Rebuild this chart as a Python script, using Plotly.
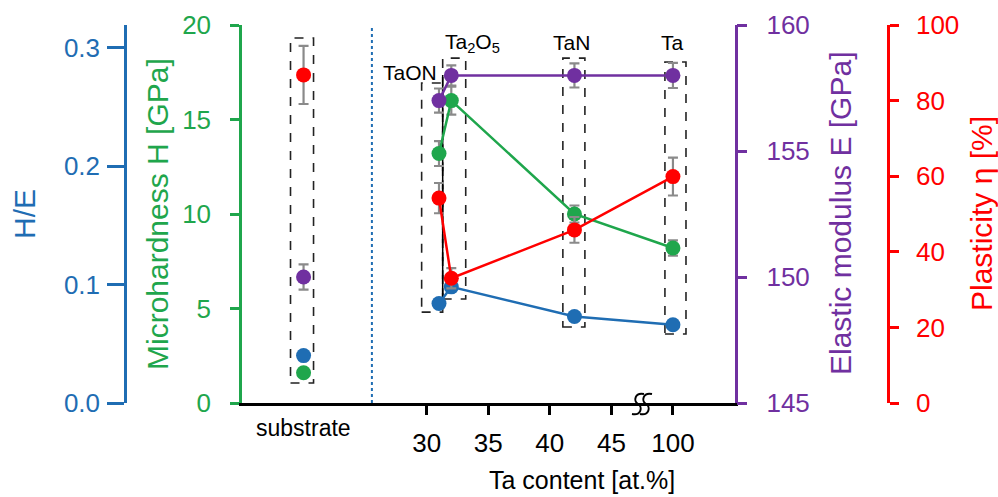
import plotly.graph_objects as go

# ---------------- data ----------------
categories = ["substrate", "TaON", "Ta2O5", "TaN", "Ta"]
ta_content = [31, 32, 42, 100]                 # at.% for coatings
he_ratio = [0.040, 0.084, 0.098, 0.073, 0.066]
hardness = [1.6, 13.2, 16.0, 10.0, 8.2]
hardness_err = [0.0, 0.66, 0.74, 0.45, 0.40]
modulus = [150.0, 157.0, 158.0, 158.0, 158.0]
modulus_err = [0.5, 0.48, 0.40, 0.48, 0.50]
plasticity = [86.8, 54.2, 33.0, 45.8, 59.9]
plasticity_err = [7.7, 4.0, 2.7, 3.4, 5.0]
x_tick_values = [30, 35, 40, 45, 100]

# ---------------- styling ----------------
BLUE = "#1f6db3"
GREEN = "#1fa64c"
PURPLE = "#7030a0"
RED = "#ff0000"
GREY = "#8a8a8a"
FONT = "Arial, Liberation Sans, sans-serif"
W, H = 998, 497

SUBSTRATE_POS = 20
BREAK_AFTER = 45
BREAK_POS = 50


def xpos(v):
    """broken axis: values above 45 are drawn at position 50"""
    return v if v <= BREAK_AFTER else BREAK_POS


def px(x):
    return x / W


def py(y):
    return 1 - y / H


xs = [xpos(v) for v in ta_content]
tick_pos = [xpos(v) for v in x_tick_values]

fig = go.Figure()

series = [
    ("y2", he_ratio, None, BLUE),
    ("y", hardness, hardness_err, GREEN),
    ("y4", plasticity, plasticity_err, RED),
    ("y3", modulus, modulus_err, PURPLE),
]

for axis, vals, errs, col in series:
    err_sub = None
    err_coat = None
    if errs is not None:
        err_sub = dict(type="data", array=[errs[0]], visible=errs[0] > 0,
                       color=GREY, thickness=2.2, width=5)
        err_coat = dict(type="data", array=errs[1:], visible=True,
                        color=GREY, thickness=2.2, width=5)
    fig.add_trace(go.Scatter(
        x=[SUBSTRATE_POS], y=[vals[0]], yaxis=axis, mode="markers",
        marker=dict(color=col, size=15), error_y=err_sub,
        showlegend=False, hoverinfo="skip"))
    fig.add_trace(go.Scatter(
        x=xs, y=vals[1:], yaxis=axis, mode="lines+markers",
        line=dict(color=col, width=2.5),
        marker=dict(color=col, size=15), error_y=err_coat,
        showlegend=False, hoverinfo="skip"))

# ---------------- dashed boxes (x in data pos, y in hardness units) -----
boxes = [
    (18.94, 20.81, 1.06, 19.31),
    (29.59, 31.30, 4.81, 16.93),
    (31.30, 33.17, 5.50, 18.25),
    (41.06, 42.85, 4.02, 18.25),
    (49.35, 51.06, 3.65, 18.04),
]
shapes = []
for x0, x1, y0, y1 in boxes:
    shapes.append(dict(type="rect", xref="x", yref="y", x0=x0, x1=x1, y0=y0, y1=y1,
                       line=dict(color="#222222", width=1.6, dash="dash"), layer="below"))
# solid black edge between TaON and Ta2O5 boxes
shapes.append(dict(type="line", xref="x", yref="y", x0=31.30, x1=31.30, y0=5.56, y1=17.35,
                   line=dict(color="black", width=1.5), layer="below"))
# dotted separator
shapes.append(dict(type="line", xref="x", yref="paper", x0=25.55, x1=25.55,
                   y0=py(403), y1=py(25), line=dict(color=BLUE, width=2, dash="dot")))
# small ticks at substrate and separator
for xt in (SUBSTRATE_POS, 25.0):
    shapes.append(dict(type="line", xref="x", yref="paper", x0=xt, x1=xt,
                       y0=py(403), y1=py(406), line=dict(color="black", width=2)))
# axis break symbol: two slanted S strokes
for x0 in (632, 640):
    pts = [(x0 + 12, 394), (x0 + 3, 392), (x0 + 1, 401), (x0 + 6, 404),
           (x0 + 11, 407), (x0 + 9, 416), (x0, 414)]
    p = [f"{px(a)},{py(b)}" for a, b in pts]
    path = f"M {p[0]} C {p[1]} {p[2]} {p[3]} C {p[4]} {p[5]} {p[6]}"
    shapes.append(dict(type="path", xref="paper", yref="paper", path=path,
                       line=dict(color="black", width=2)))

annotations = []
labels = [("TaON", 28.64, 17.5), ("Ta<sub>2</sub>O<sub>5</sub>", 33.7, 19.05),
          ("TaN", 41.8, 19.05), ("Ta", 50.0, 19.05)]
for txt, x, y in labels:
    annotations.append(dict(text=txt, x=x, y=y, xref="x", yref="y", showarrow=False,
                            xanchor="center", yanchor="middle",
                            font=dict(family=FONT, size=21, color="black")))
annotations.append(dict(text="substrate", x=SUBSTRATE_POS, y=py(428), xref="x", yref="paper",
                        showarrow=False, xanchor="center", yanchor="middle",
                        font=dict(family=FONT, size=23, color="black")))
annotations.append(dict(text="Ta content [at.%]", x=px(582), y=py(480), xref="paper",
                        yref="paper", showarrow=False, xanchor="center", yanchor="middle",
                        font=dict(family=FONT, size=25, color="black")))
titles = [("H/E", 25, BLUE), ("Microhardness H [GPa]", 158, GREEN),
          ("Elastic modulus E [GPa]", 841, PURPLE), ("Plasticity η [%]", 982, RED)]
for txt, x, col in titles:
    annotations.append(dict(text=txt, x=px(x), y=py(214), xref="paper", yref="paper",
                            showarrow=False, textangle=-90, xanchor="center",
                            yanchor="middle",
                            font=dict(family=FONT, size=30, color=col)))

ydom = [py(403), py(25)]
xdom = [px(242), px(734.5)]


def yax(col, rng, dtick, **kw):
    d = dict(domain=ydom, range=rng, dtick=dtick, tick0=rng[0], showline=True,
             linecolor=col, linewidth=2.5, ticks="outside", tickcolor=col, tickwidth=2.5,
             tickfont=dict(family=FONT, size=26, color=col), showgrid=False,
             zeroline=False, automargin=False, fixedrange=True)
    d.update(kw)
    return d


fig.update_layout(
    width=W, height=H, margin=dict(l=0, r=0, t=0, b=0),
    paper_bgcolor="white", plot_bgcolor="white",
    font=dict(family=FONT),
    xaxis=dict(domain=xdom, range=[15, 55], tickvals=tick_pos,
               ticktext=[str(v) for v in x_tick_values], showline=True,
               linecolor="black", linewidth=2.5, ticks="outside", ticklen=9,
               tickwidth=2.5, tickcolor="black", ticklabelstandoff=6,
               tickfont=dict(family=FONT, size=26, color="black"), showgrid=False,
               zeroline=False, automargin=False),
    yaxis=yax(GREEN, [0, 20], 5, ticklen=9, ticklabelstandoff=14),
    yaxis2=yax(BLUE, [0, 0.319], 0.1, overlaying="y", side="left", anchor="free",
               position=px(125), ticklen=17, tickformat=".1f", ticklabelstandoff=2),
    yaxis3=yax(PURPLE, [145, 160], 5, overlaying="y", side="right", anchor="x",
               ticklen=10, ticklabelstandoff=14),
    yaxis4=yax(RED, [0, 100], 20, overlaying="y", side="right", anchor="free",
               position=px(888), ticklen=9, ticklabelstandoff=12),
    shapes=shapes, annotations=annotations,
)

fig.write_html("out.html", config={"displayModeBar": False},
               post_script="document.body.style.margin='0px';")
